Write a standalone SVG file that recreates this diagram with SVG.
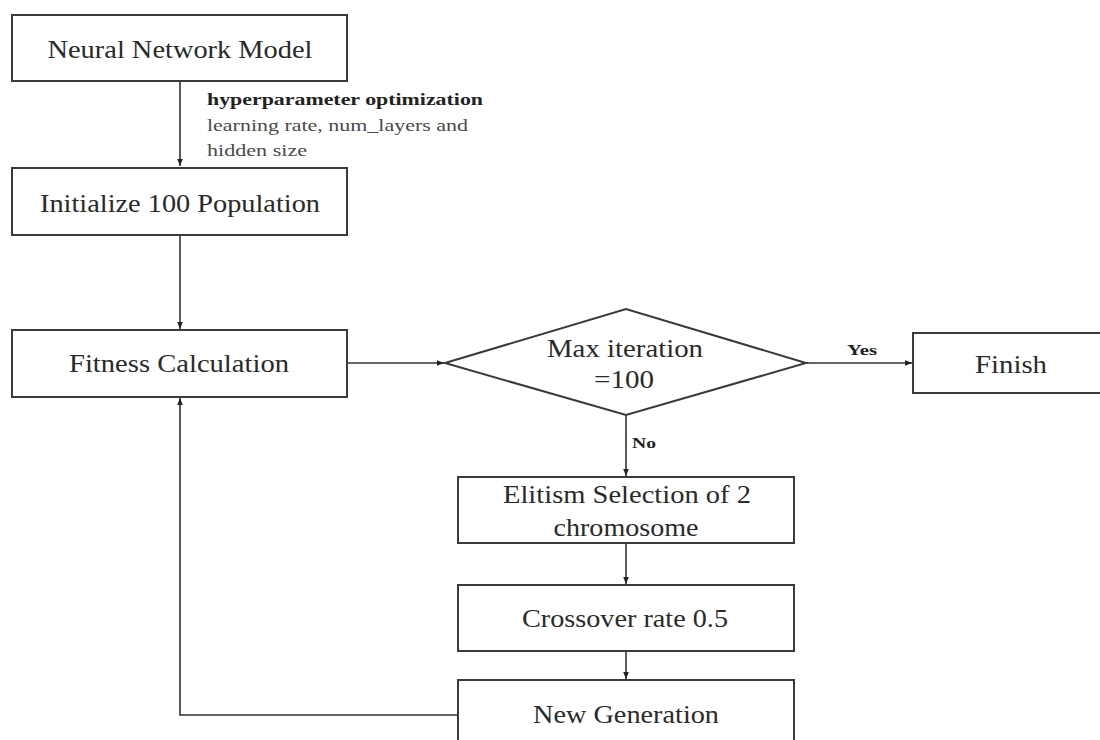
<svg xmlns="http://www.w3.org/2000/svg" width="1100" height="740" viewBox="0 0 1100 740">
<style>
text{font-family:'Liberation Serif','Times New Roman',serif}
.box{fill:#fff;stroke:#3a3a3a;stroke-width:2}
.t{font-size:25px;fill:#2a2a2a;text-anchor:middle}
.s{font-size:17px;fill:#4a4a4a}
.b{font-size:17px;font-weight:bold;fill:#222}
.y{font-size:15px;font-weight:bold;fill:#222;text-anchor:middle}
.c{fill:none;stroke:#333;stroke-width:1.6}
</style>
<defs>
<marker id="ah" viewBox="0 0 10 10" refX="10" refY="5" markerWidth="7" markerHeight="7" orient="auto" markerUnits="userSpaceOnUse">
<path d="M0,1 L10,5 L0,9 z" fill="#222"/>
</marker>
</defs>
<g id="connectors">
<line class="c" x1="180" y1="81" x2="180" y2="166" marker-end="url(#ah)"/>
<line class="c" x1="180" y1="235" x2="180" y2="329" marker-end="url(#ah)"/>
<line class="c" x1="347" y1="363" x2="444" y2="363" marker-end="url(#ah)"/>
<line class="c" x1="806" y1="363" x2="912" y2="363" marker-end="url(#ah)"/>
<line class="c" x1="626" y1="415" x2="626" y2="476" marker-end="url(#ah)"/>
<line class="c" x1="626" y1="543" x2="626" y2="584" marker-end="url(#ah)"/>
<line class="c" x1="626" y1="651" x2="626" y2="679" marker-end="url(#ah)"/>
<polyline class="c" points="458,715 180,715 180,398" marker-end="url(#ah)"/>
<text class="b" x="207" y="105" textLength="276" lengthAdjust="spacingAndGlyphs">hyperparameter optimization</text>
<text class="s" x="207" y="131" textLength="261" lengthAdjust="spacingAndGlyphs">learning rate, num_layers and</text>
<text class="s" x="207" y="156" textLength="100" lengthAdjust="spacingAndGlyphs">hidden size</text>
<text class="y" x="862" y="355" textLength="30" lengthAdjust="spacingAndGlyphs">Yes</text>
<text class="y" x="644" y="448" textLength="24" lengthAdjust="spacingAndGlyphs">No</text>
</g>
<g id="n1">
<rect class="box" x="12" y="15" width="335" height="66"/>
<text class="t" x="180" y="58" textLength="265" lengthAdjust="spacingAndGlyphs">Neural Network Model</text>
</g>
<g id="n2">
<rect class="box" x="12" y="168" width="335" height="67"/>
<text class="t" x="180" y="212" textLength="280" lengthAdjust="spacingAndGlyphs">Initialize 100 Population</text>
</g>
<g id="n3">
<rect class="box" x="12" y="330" width="335" height="67"/>
<text class="t" x="179" y="372" textLength="220" lengthAdjust="spacingAndGlyphs">Fitness Calculation</text>
</g>
<g id="n4">
<polygon class="box" points="445,363 626,309 806,363 626,415"/>
<text class="t" x="625" y="357" textLength="156" lengthAdjust="spacingAndGlyphs">Max iteration</text>
<text class="t" x="624" y="388" textLength="60" lengthAdjust="spacingAndGlyphs">=100</text>
</g>
<g id="n5">
<rect class="box" x="913" y="333" width="195" height="60"/>
<text class="t" x="1011" y="373" textLength="72" lengthAdjust="spacingAndGlyphs">Finish</text>
</g>
<g id="n6">
<rect class="box" x="458" y="477" width="336" height="66"/>
<text class="t" x="627" y="503" textLength="248" lengthAdjust="spacingAndGlyphs">Elitism Selection of 2</text>
<text class="t" x="626" y="536" textLength="145" lengthAdjust="spacingAndGlyphs">chromosome</text>
</g>
<g id="n7">
<rect class="box" x="458" y="585" width="336" height="66"/>
<text class="t" x="625" y="627" textLength="206" lengthAdjust="spacingAndGlyphs">Crossover rate 0.5</text>
</g>
<g id="n8">
<rect class="box" x="458" y="680" width="336" height="80"/>
<text class="t" x="626" y="723" textLength="186" lengthAdjust="spacingAndGlyphs">New Generation</text>
</g>
</svg>
